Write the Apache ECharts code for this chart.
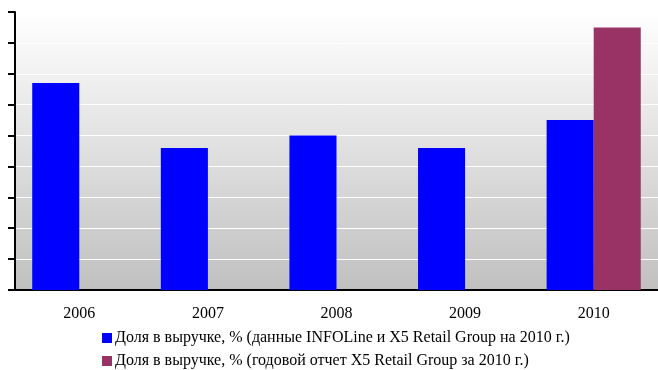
<!DOCTYPE html>
<html><head><meta charset="utf-8">
<script src="https://cdn.jsdelivr.net/npm/echarts@6/dist/echarts.min.js"></script>
<style>html,body{margin:0;padding:0;background:#fff}#c{width:658px;height:370px}</style>
</head><body><div id="c"></div>
<script>
var categories = ['2006', '2007', '2008', '2009', '2010'];
var seriesNames = ['Доля в выручке, % (данные INFOLine и X5 Retail Group на 2010 г.)', 'Доля в выручке, % (годовой отчет X5 Retail Group за 2010 г.)'];
var infolineShare = [6.7, 4.6, 5.0, 4.6, 5.5];
var annualReportShare = [null, null, null, null, 8.5];
var yTicks = [0, 1, 2, 3, 4, 5, 6, 7, 8, 9];

var font = '"Liberation Serif", "Times New Roman", serif';
var legendBase = {
  orient: 'horizontal', left: 102, itemWidth: 10, itemHeight: 10, padding: 0,
  icon: 'rect',
  textStyle: {fontFamily: font, fontSize: 16, color: '#000', padding: [0, 0, 0, -2]}
};
var chart = echarts.init(document.getElementById('c'));
chart.setOption({
  animation: false,
  grid: {
    left: 15, right: 0, top: 12, bottom: 80, show: true, borderWidth: 0,
    backgroundColor: new echarts.graphic.LinearGradient(0, 0, 0, 1, [
      {offset: 0, color: '#ffffff'}, {offset: 1, color: '#c0c0c0'}
    ])
  },
  legend: [
    Object.assign({}, legendBase, {top: 330, data: [seriesNames[0]]}),
    Object.assign({}, legendBase, {top: 353, data: [seriesNames[1]]})
  ],
  xAxis: {
    type: 'category', data: categories,
    axisLine: {lineStyle: {color: '#000', width: 2}},
    axisTick: {length: 5, lineStyle: {color: '#000', width: 1.5}},
    axisLabel: {color: '#000', fontFamily: font, fontSize: 16, margin: 16}
  },
  yAxis: {
    type: 'value', min: yTicks[0], max: yTicks[yTicks.length - 1], interval: 1,
    axisLine: {show: true, lineStyle: {color: '#000', width: 2}},
    axisTick: {show: true, length: 7, lineStyle: {color: '#000', width: 2}},
    axisLabel: {show: false},
    splitLine: {lineStyle: {color: '#fff', width: 1}}
  },
  series: [
    {name: seriesNames[0], type: 'bar', data: infolineShare, itemStyle: {color: '#0000ff'},
     barWidth: '36.6%', barGap: '0%'},
    {name: seriesNames[1], type: 'bar', data: annualReportShare, itemStyle: {color: '#993366'},
     barWidth: '36.6%', barGap: '0%'}
  ]
});
</script></body></html>
